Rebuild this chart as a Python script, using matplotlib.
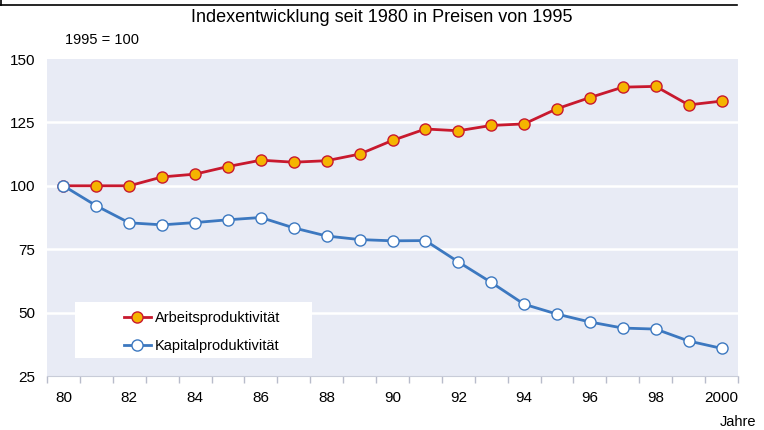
import numpy as np
import matplotlib
matplotlib.use('Agg')
import matplotlib.pyplot as plt
from matplotlib.patches import Rectangle
from matplotlib.lines import Line2D

plt.rcParams['font.family'] = ['Liberation Sans', 'DejaVu Sans']

# ── DATA ────────────────────────────────────────────────────────
years = list(range(80, 101))
tick_years = [80, 82, 84, 86, 88, 90, 92, 94, 96, 98, 100]
tick_labels = ['80', '82', '84', '86', '88', '90', '92', '94', '96', '98', '2000']
arbeit = [100, 100, 100, 103.5, 104.6, 107.6, 110.1, 109.3, 109.9, 112.5, 117.9,
          122.4, 121.7, 123.8, 124.4, 130.4, 134.8, 138.9, 139.2, 131.9, 133.4]
kapital = [100, 92.1, 85.4, 84.6, 85.5, 86.6, 87.5, 83.4, 80.2, 78.8, 78.3,
           78.4, 70.0, 61.9, 53.3, 49.4, 46.3, 43.9, 43.5, 38.8, 35.9]

RED = '#c8192e'
ORANGE = '#f5b400'
BLUE = '#3c78c0'
BG = '#e8ebf5'

W, H = 764, 430
fig = plt.figure(figsize=(W / 100, H / 100), dpi=100)
ax = fig.add_axes([47 / W, 1 - 376 / H, 691 / W, 317 / H])
ax.set_facecolor(BG)

ax.set_xlim(79.5, 100.5)
ax.set_ylim(25, 150)
for y in [50, 75, 100, 125]:
    ax.axhline(y, color='white', lw=1.8, zorder=1)

ax.plot(years, arbeit, '-o', color=RED, lw=2.0, ms=8, mfc=ORANGE,
        mec=RED, mew=1.0, zorder=3)
ax.plot(years, kapital, '-o', color=BLUE, lw=2.0, ms=8, mfc='white',
        mec=BLUE, mew=1.0, zorder=4)

ax.set_yticks([25, 50, 75, 100, 125, 150])
ax.tick_params(axis='y', length=0, pad=8.5, labelsize=11)
ax.set_xticks(tick_years)
ax.set_xticklabels(tick_labels)
ax.set_xticks(np.arange(79.5, 100.6, 1), minor=True)
ax.tick_params(axis='x', which='major', length=0, pad=11, labelsize=11)
ax.tick_params(axis='x', which='minor', length=5, color='#b8bccb', width=1)
for side in ['top', 'left', 'right']:
    ax.spines[side].set_visible(False)
ax.spines['bottom'].set_color('#c8ccd8')

# legend box
ax.add_patch(Rectangle((79.5 + 28 / 32.9, 25 + 18 / 2.536), 237 / 32.9, 56 / 2.536,
                       facecolor='white', edgecolor='none', zorder=5))
handles = [
    Line2D([], [], color=RED, lw=2.0, marker='o', ms=8, mfc=ORANGE, mec=RED),
    Line2D([], [], color=BLUE, lw=2.0, marker='o', ms=8, mfc='white', mec=BLUE),
]
leg = ax.legend(handles, ['Arbeitsproduktivität', 'Kapitalproduktivität'],
                loc='center left', bbox_to_anchor=(70 / 691, (376 - 332) / 317),
                frameon=False, fontsize=10.5, handlelength=1.8, handletextpad=0.3,
                labelspacing=0.95, borderpad=0)
leg.set_zorder(6)

fig.text(382 / W, 1 - 18 / H, 'Indexentwicklung seit 1980 in Preisen von 1995',
         ha='center', va='center', fontsize=13)
fig.text(65 / W, 1 - 40 / H, '1995 = 100', ha='left', va='center', fontsize=10.5)
fig.text(756 / W, 1 - 422 / H, 'Jahre', ha='right', va='center', fontsize=10.5)

# frame line of box above
fig.add_artist(Line2D([0, 737 / W], [1 - 5 / H, 1 - 5 / H], color='black', lw=1.2))
fig.add_artist(Line2D([1 / W, 1 / W], [1, 1 - 5 / H], color='black', lw=1.2))

fig.savefig('out.png', dpi=100)
